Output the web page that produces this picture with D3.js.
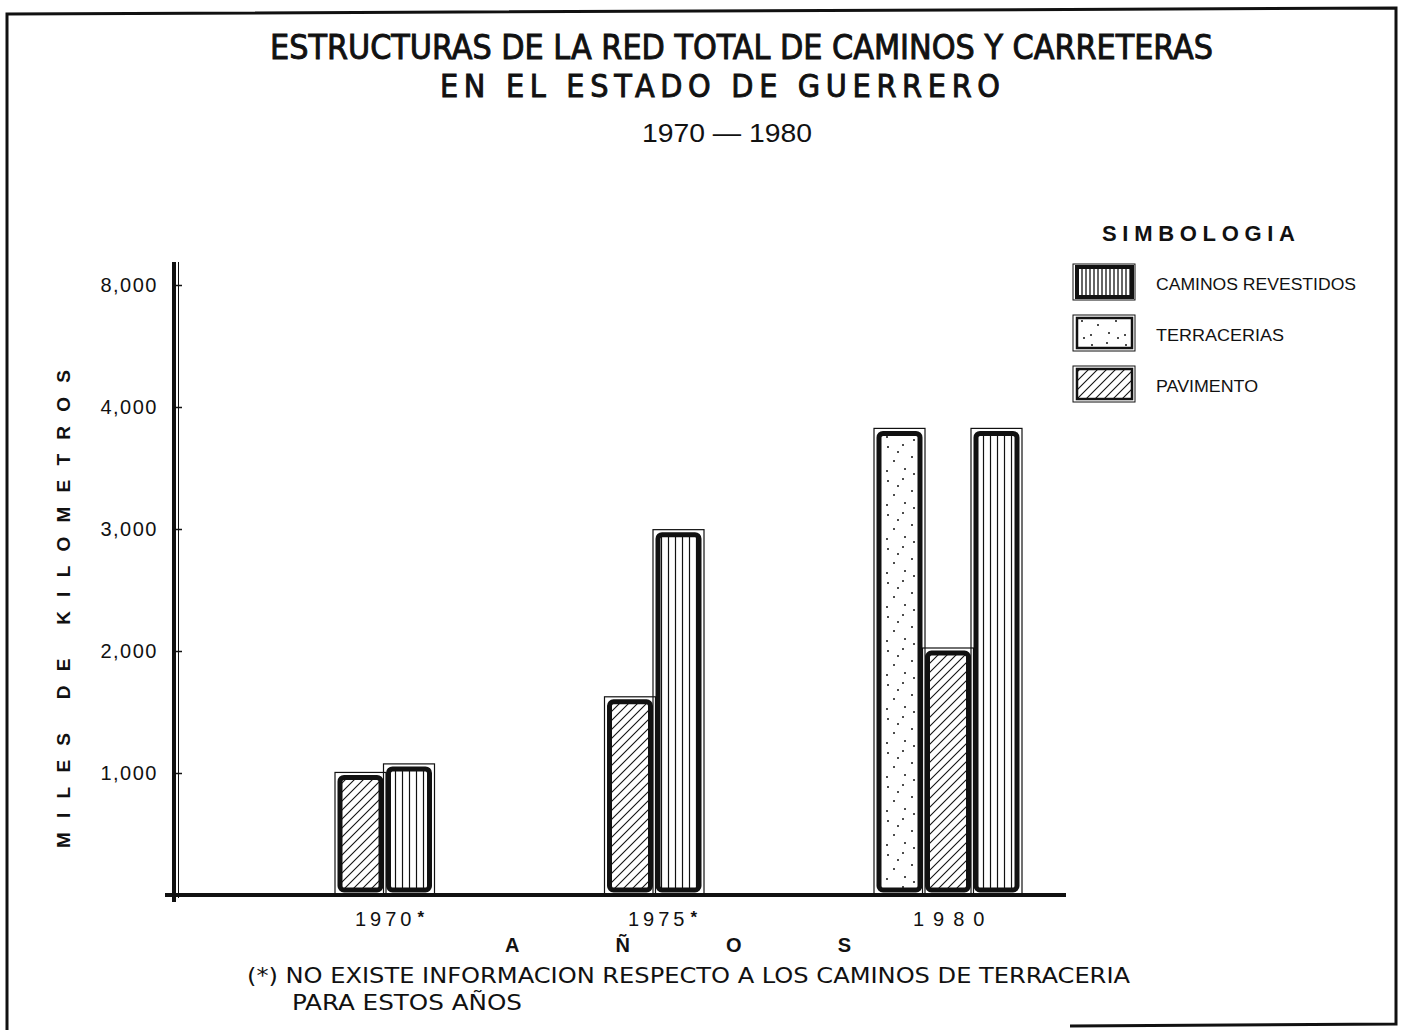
<!DOCTYPE html>
<html>
<head>
<meta charset="utf-8">
<script src="https://cdn.jsdelivr.net/npm/d3@7"></script>
<style>
  body { margin: 0; background: #fff; }
  text { font-family: "Liberation Sans", Arial, sans-serif; fill: #111; }
</style>
</head>
<body>
<div id="chart"></div>
<script>
// data
const years = ["1970", "1975", "1980"];
const yearLabels = ["1970", "1975", "1980"];
const yearMarks = ["*", "*", ""];
const series = ["terracerias", "pavimento", "revestidos"];
const terracerias = [null, null, 3800];
const pavimento = [980, 1600, 2000];
const revestidos = [1050, 2970, 3800];
const tickValues = [1000, 2000, 3000, 4000, 5000];
const tickLabels = ["1,000", "2,000", "3,000", "4,000", "8,000"]; // axis is broken above 4,000
const legendNames = ["CAMINOS REVESTIDOS", "TERRACERIAS", "PAVIMENTO"];
const legendKeys = ["revestidos", "terracerias", "pavimento"];

const width = 1405, height = 1030;
const values = { terracerias, pavimento, revestidos };
const narrow = "'Liberation Sans Narrow', 'DejaVu Sans Condensed', sans-serif";

const svg = d3.select("#chart").append("svg")
  .attr("width", width)
  .attr("height", height);

// fill patterns
const defs = svg.append("defs");
const hatch = defs.append("pattern").attr("id", "pat-pavimento")
  .attr("patternUnits", "userSpaceOnUse").attr("width", 9).attr("height", 9);
hatch.append("path").attr("d", "M-1,1 l2,-2 M0,9 l9,-9 M8,10 l2,-2")
  .attr("stroke", "#111").attr("stroke-width", 1.1);

const vert = defs.append("pattern").attr("id", "pat-revestidos")
  .attr("patternUnits", "userSpaceOnUse").attr("width", 7).attr("height", 10);
vert.append("line").attr("x1", 3.5).attr("x2", 3.5).attr("y1", 0).attr("y2", 10)
  .attr("stroke", "#111").attr("stroke-width", 1.2);

const vertDense = defs.append("pattern").attr("id", "pat-revestidos-legend")
  .attr("patternUnits", "userSpaceOnUse").attr("width", 4).attr("height", 10);
vertDense.append("line").attr("x1", 2).attr("x2", 2).attr("y1", 0).attr("y2", 10)
  .attr("stroke", "#111").attr("stroke-width", 1.3);

const dots = defs.append("pattern").attr("id", "pat-terracerias")
  .attr("patternUnits", "userSpaceOnUse").attr("width", 34).attr("height", 34);
[[4, 5], [19, 3], [28, 15], [10, 19], [3, 29], [21, 27], [14, 10], [30, 32]].forEach(p => {
  dots.append("circle").attr("cx", p[0]).attr("cy", p[1]).attr("r", 1).attr("fill", "#111");
});

// page frame
svg.append("path")
  .attr("d", "M1070,1026 L1396,1024 L1396,8 L7,14 L7,1030")
  .attr("fill", "none").attr("stroke", "#111").attr("stroke-width", 3);

// titles
svg.append("text").attr("x", 270).attr("y", 59)
  .attr("textLength", 943).attr("lengthAdjust", "spacingAndGlyphs")
  .style("font-family", narrow)
  .style("font-size", "33px").style("stroke", "#111").style("stroke-width", 0.9)
  .text("ESTRUCTURAS DE LA RED TOTAL DE CAMINOS Y CARRETERAS");
svg.append("text").attr("x", 440).attr("y", 97)
  .attr("textLength", 560).attr("lengthAdjust", "spacing")
  .style("font-family", narrow)
  .style("font-size", "32px").style("stroke", "#111").style("stroke-width", 0.9)
  .text("EN EL ESTADO DE GUERRERO");
svg.append("text").attr("x", 642).attr("y", 142)
  .attr("textLength", 170).attr("lengthAdjust", "spacingAndGlyphs")
  .style("font-size", "25px")
  .text("1970 — 1980");

// scales
const y = d3.scaleLinear().domain([0, 5000]).range([895, 285]);
const x = d3.scalePoint().domain(years).range([338, 877]);
const barStep = 48.5, barW = 45;

// y axis
const yAxis = svg.append("g").attr("transform", "translate(175,0)")
  .call(d3.axisLeft(y).tickValues(tickValues)
    .tickFormat((d, i) => tickLabels[i]).tickSize(7).tickPadding(10));
yAxis.select(".domain").remove();
yAxis.selectAll(".tick line").attr("x2", 7).attr("stroke", "#111").attr("stroke-width", 1.5);
yAxis.selectAll(".tick text")
  .style("font-family", "'Liberation Sans', sans-serif")
  .style("font-size", "20px").style("letter-spacing", "1.5px").attr("fill", "#111");

svg.append("line").attr("x1", 174).attr("x2", 174).attr("y1", 262).attr("y2", 902)
  .attr("stroke", "#111").attr("stroke-width", 4);
svg.append("line").attr("x1", 178.5).attr("x2", 178.5).attr("y1", 262).attr("y2", 898)
  .attr("stroke", "#111").attr("stroke-width", 1);
svg.append("line").attr("x1", 165).attr("x2", 1066).attr("y1", y(0)).attr("y2", y(0))
  .attr("stroke", "#111").attr("stroke-width", 4);

// axis title
svg.append("text")
  .attr("transform", "translate(70,848) rotate(-90)")
  .attr("textLength", 478).attr("lengthAdjust", "spacing")
  .style("font-weight", "bold").style("font-size", "19px")
  .text("MILES  DE  KILOMETROS");

// bars
years.forEach((yr, i) => {
  const present = series.filter(s => values[s][i] != null);
  present.forEach((s, k) => {
    const v = values[s][i];
    const bx = x(yr) + k * barStep;
    // thin outline behind the bar
    svg.append("rect")
      .attr("x", bx - 3).attr("y", y(v) - 3)
      .attr("width", barW + 6).attr("height", y(0) - y(v) + 3)
      .attr("fill", "none").attr("stroke", "#111").attr("stroke-width", 1.2);
    svg.append("rect")
      .attr("x", bx + 2).attr("y", y(v) + 2)
      .attr("width", barW - 4).attr("height", y(0) - y(v) - 7)
      .attr("rx", 4)
      .attr("fill", "url(#pat-" + s + ")")
      .attr("stroke", "#111").attr("stroke-width", 5);
  });
});

// x labels
const xStarts = [355, 628, 913];
years.forEach((yr, i) => {
  const t = svg.append("text")
    .attr("x", xStarts[i]).attr("y", 926)
    .style("font-size", "20px").style("letter-spacing", i === 2 ? "9px" : "4px");
  t.append("tspan").text(yearLabels[i]);
  t.append("tspan").attr("dy", -3).attr("dx", 2).style("font-size", "17px").style("font-weight", "bold")
    .text(yearMarks[i]);
});

svg.append("text").attr("x", 505).attr("y", 952)
  .attr("textLength", 346).attr("lengthAdjust", "spacing")
  .style("font-weight", "bold").style("font-size", "20px")
  .text("AÑOS");

// footnote
svg.append("text").attr("x", 247).attr("y", 983)
  .attr("textLength", 883).attr("lengthAdjust", "spacingAndGlyphs")
  .style("font-family", narrow).style("font-size", "22px")
  .text("(*) NO EXISTE  INFORMACION RESPECTO A LOS CAMINOS  DE TERRACERIA");
svg.append("text").attr("x", 292).attr("y", 1010)
  .attr("textLength", 230).attr("lengthAdjust", "spacingAndGlyphs")
  .style("font-family", narrow).style("font-size", "22px")
  .text("PARA ESTOS AÑOS");

// legend
svg.append("text").attr("x", 1102).attr("y", 241)
  .attr("textLength", 193).attr("lengthAdjust", "spacing")
  .style("font-weight", "bold").style("font-size", "22px")
  .text("SIMBOLOGIA");

const legend = svg.append("g");
legendKeys.forEach((key, i) => {
  const ly = 267 + i * 51;
  legend.append("rect")
    .attr("x", 1073).attr("y", ly - 3).attr("width", 62).attr("height", 36)
    .attr("fill", "none").attr("stroke", "#111").attr("stroke-width", 1);
  legend.append("rect")
    .attr("x", 1077).attr("y", ly).attr("width", 55).attr("height", 30)
    .attr("fill", key === "revestidos" ? "url(#pat-revestidos-legend)" : "url(#pat-" + key + ")")
    .attr("stroke", "#111").attr("stroke-width", key === "revestidos" ? 4 : 2.5);
  legend.append("text")
    .attr("x", 1156).attr("y", ly + 23)
    .attr("textLength", [200, 128, 102][i]).attr("lengthAdjust", "spacingAndGlyphs")
    .style("font-size", "16px")
    .text(legendNames[i]);
});
</script>
</body>
</html>
